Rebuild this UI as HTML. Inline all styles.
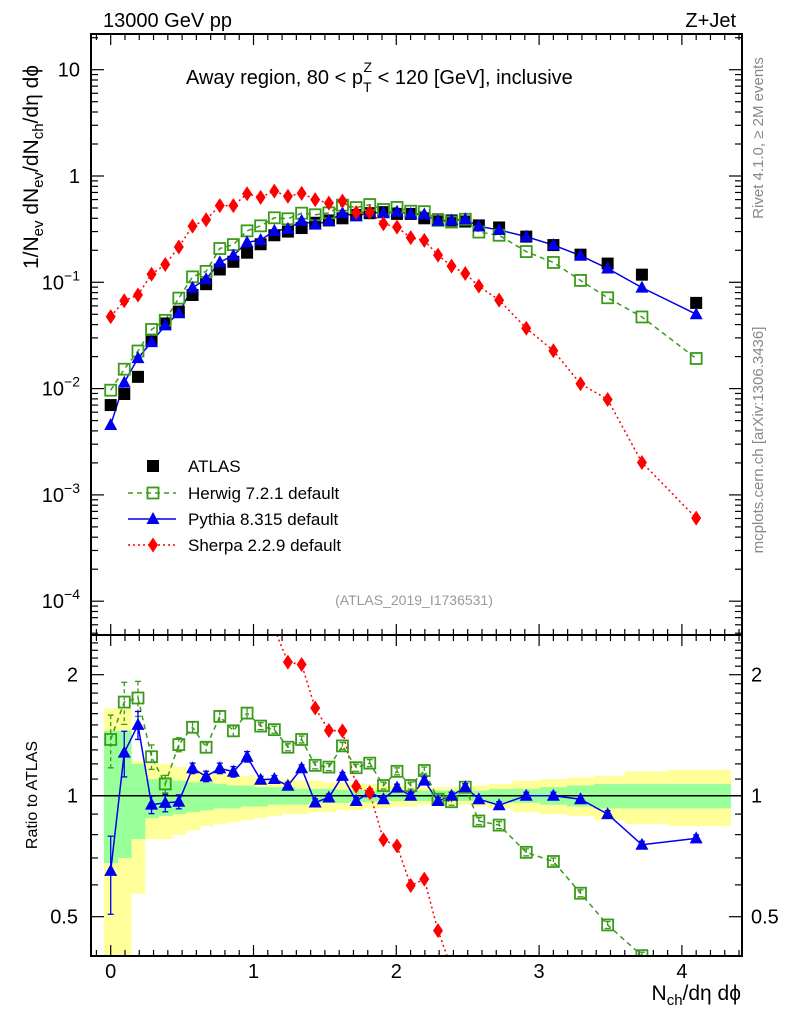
<!DOCTYPE html>
<html><head><meta charset="utf-8"><style>
html,body{margin:0;padding:0;background:#fff;overflow:hidden;width:786px;height:1024px;}
svg{display:block;font-family:"Liberation Sans",sans-serif;}
</style></head><body>
<svg id="plot" width="786" height="1024" viewBox="0 0 786 1024" xmlns="http://www.w3.org/2000/svg">
<defs>
<clipPath id="clipMain"><rect x="91" y="34" width="651" height="601"/></clipPath>
<clipPath id="clipRatio"><rect x="91" y="635" width="651" height="321"/></clipPath>
</defs>
<text x="103" y="27" font-size="20">13000 GeV pp</text>
<text x="736" y="27" font-size="20" text-anchor="end">Z+Jet</text>
<text x="186" y="84" font-size="20">Away region, 80 &lt; p<tspan dy="8" font-size="14">T</tspan><tspan dx="-8" dy="-20" font-size="14">Z</tspan><tspan dy="12"> &lt; 120 [GeV], inclusive</tspan></text>
<text transform="translate(38,167) rotate(-90)" font-size="21" text-anchor="middle">1/N<tspan font-size="15" dy="5">ev</tspan><tspan dy="-5"> dN</tspan><tspan font-size="15" dy="5">ev</tspan><tspan dy="-5">/dN</tspan><tspan font-size="15" dy="5">ch</tspan><tspan dy="-5">/dη dϕ</tspan></text>
<text transform="translate(37,795) rotate(-90)" font-size="16" text-anchor="middle">Ratio to ATLAS</text>
<text x="741" y="1000" font-size="21" text-anchor="end">N<tspan font-size="15" dy="5">ch</tspan><tspan dy="-5">/dη dϕ</tspan></text>
<text transform="translate(763,138) rotate(-90)" font-size="15" fill="#888" text-anchor="middle">Rivet 4.1.0, ≥ 2M events</text>
<text transform="translate(763,440) rotate(-90)" font-size="15" fill="#888" text-anchor="middle">mcplots.cern.ch [arXiv:1306.3436]</text>
<text x="414" y="605" font-size="14" fill="#999" text-anchor="middle">(ATLAS_2019_I1736531)</text>
<g id="bands" clip-path="url(#clipRatio)"></g>
<g id="ticks"></g>
<g id="mainMarks" clip-path="url(#clipMain)"></g>
<g id="ratioMarks" clip-path="url(#clipRatio)"></g>
<rect x="91" y="34" width="651" height="601" fill="none" stroke="#000" stroke-width="2"/>
<rect x="91" y="635" width="651" height="321" fill="none" stroke="#000" stroke-width="2"/>
<g id="legend"></g>
</svg>
<script>
const xVals=[0,0.095,0.191,0.286,0.382,0.477,0.573,0.668,0.764,0.859,0.955,1.05,1.146,1.241,1.337,1.432,1.528,1.623,1.719,1.814,1.91,2.005,2.101,2.196,2.292,2.387,2.483,2.578,2.72,2.91,3.10,3.29,3.48,3.72,4.10];
const atlasVals=[0.0070,0.0089,0.0129,0.0288,0.041,0.053,0.076,0.096,0.132,0.156,0.19,0.228,0.277,0.30,0.324,0.363,0.382,0.40,0.43,0.447,0.457,0.44,0.44,0.40,0.39,0.382,0.373,0.343,0.328,0.269,0.224,0.182,0.150,0.118,0.064];
const pythiaRatio=[0.65,1.28,1.50,0.95,0.96,0.966,1.17,1.117,1.17,1.147,1.25,1.096,1.10,1.059,1.17,0.962,0.99,1.12,0.97,1.02,0.98,1.047,1.0,1.09,0.97,1.0,1.05,0.98,0.947,1.0,1.0,0.98,0.90,0.755,0.783];
const herwigRatio=[1.38,1.71,1.75,1.25,1.07,1.34,1.48,1.32,1.575,1.45,1.605,1.49,1.46,1.32,1.38,1.19,1.178,1.33,1.174,1.205,1.06,1.15,1.06,1.155,0.98,0.966,1.05,0.865,0.845,0.723,0.686,0.572,0.477,0.40,0.30];
const sherpaVals=[0.0476,0.067,0.076,0.119,0.147,0.215,0.338,0.388,0.527,0.527,0.68,0.63,0.72,0.645,0.687,0.60,0.555,0.58,0.454,0.455,0.355,0.33,0.263,0.248,0.18,0.142,0.121,0.092,0.068,0.037,0.0227,0.0111,0.0079,0.00202,0.000605];
const pythiaErr=[0.22,0.13,0.08,0.05,0.05,0.04,0.03,0.03,0.03,0.03,0.03,0.02,0.02,0.02,0.02,0.02,0.02,0.02,0.02,0.02,0.02,0.02,0.02,0.02,0.02,0.02,0.02,0.02,0.02,0.02,0.02,0.02,0.02,0.02,0.02];
const herwigErr=[0.15,0.12,0.10,0.07,0.05,0.04,0.03,0.03,0.03,0.03,0.03,0.02,0.02,0.02,0.02,0.02,0.02,0.02,0.02,0.02,0.02,0.02,0.02,0.02,0.02,0.02,0.02,0.02,0.02,0.02,0.02,0.02,0.02,0.02,0.02];
const greenUp=[0.45,0.45,0.20,0.10,0.10,0.09,0.08,0.08,0.07,0.06,0.06,0.05,0.05,0.05,0.04,0.04,0.04,0.035,0.035,0.03,0.03,0.03,0.03,0.03,0.03,0.03,0.03,0.03,0.04,0.04,0.05,0.06,0.07,0.07,0.07];
const greenDn=[0.32,0.30,0.22,0.12,0.11,0.10,0.09,0.08,0.07,0.07,0.06,0.06,0.05,0.05,0.05,0.04,0.04,0.04,0.035,0.035,0.03,0.03,0.03,0.03,0.03,0.03,0.03,0.03,0.04,0.04,0.05,0.06,0.07,0.07,0.07];
const yellowUp=[0.65,0.65,0.22,0.20,0.20,0.18,0.16,0.15,0.14,0.13,0.12,0.11,0.10,0.10,0.09,0.09,0.08,0.08,0.07,0.07,0.06,0.06,0.05,0.05,0.05,0.05,0.05,0.06,0.07,0.09,0.10,0.11,0.12,0.15,0.16];
const yellowDn=[0.70,0.70,0.43,0.22,0.22,0.20,0.18,0.16,0.15,0.14,0.13,0.12,0.11,0.10,0.10,0.09,0.09,0.08,0.08,0.07,0.07,0.06,0.06,0.05,0.05,0.05,0.05,0.06,0.07,0.09,0.10,0.11,0.13,0.15,0.16];
const xTickMajor=[0,1,2,3,4];
const mainTickLabels=[["10",1],["1",0],["10","−1"],["10","−2"],["10","−3"],["10","−4"]];
const ratioTickLabels=["2","1","0.5"];
const ratioTickVals=[2,1,0.5];

const NS="http://www.w3.org/2000/svg";
const X=v=>110.7+142.8*v;
const YM=v=>176-106.3*Math.log10(v);
const YR=r=>795.7-121*Math.log2(r);
const RTOP=635, RBOT=956;
const clampR=y=>Math.min(RBOT,Math.max(RTOP,y));
function mk(tag,attrs,parent){const e=document.createElementNS(NS,tag);for(const k in attrs)e.setAttribute(k,attrs[k]);parent.appendChild(e);return e;}
const g=id=>document.getElementById(id);

const edges=[];
for(let i=0;i<=xVals.length;i++){
  if(i===0)edges.push(xVals[0]-(xVals[1]-xVals[0])/2);
  else if(i===xVals.length)edges.push(4.34);
  else edges.push((xVals[i-1]+xVals[i])/2);
}
const bands=g('bands');
xVals.forEach((x,i)=>{
  const t=clampR(YR(1+yellowUp[i])), b=clampR(YR(Math.max(1-yellowDn[i],0.05)));
  const y=mk('rect',{x:X(edges[i]),width:X(edges[i+1])-X(edges[i])+0.5,y:t,height:b-t,fill:'#ffff99'},bands);
  
  
});
xVals.forEach((x,i)=>{
  const t=clampR(YR(1+greenUp[i])), b=clampR(YR(1-greenDn[i]));
  const r=mk('rect',{x:X(edges[i]),width:X(edges[i+1])-X(edges[i])+0.5,y:t,height:b-t,fill:'#99ff99'},bands);
  
  
});
const unity=mk('line',{x1:91,x2:742,y1:YR(1),y2:YR(1),stroke:'#000','stroke-width':1.5},bands);



const tk=g('ticks');
function line(x1,y1,x2,y2,w){mk('line',{x1,y1,x2,y2,stroke:'#000','stroke-width':w||1.2},tk);}
for(let k=-1;k<=44;k++){
  const v=k/10, px=X(v); if(px<92||px>741)continue;
  const major=(k%10===0), L=major?11:6;
  line(px,34,px,34+L);line(px,635,px,635-L);line(px,635,px,635+L);line(px,956,px,956-L);
}
for(let d=-5;d<=1;d++){
  for(let m=1;m<=9;m++){
    const v=m*Math.pow(10,d), py=YM(v); if(py<35||py>634)continue;
    const L=m===1?13:7;
    line(91,py,91+L,py);line(742,py,742-L,py);
  }
}
for(let k=4;k<=25;k++){
  const v=k/10, py=YR(v); if(py<636||py>955)continue;
  const L=(k===5||k===10||k===20)?13:7;
  line(91,py,91+L,py);line(742,py,742-L,py);
}
xTickMajor.forEach(v=>{
  const t=mk('text',{x:X(v),y:978,'font-size':20,'text-anchor':'middle'},tk);t.textContent=v;
  
  
});
mainTickLabels.forEach((lab,i)=>{
  const py=YM(Math.pow(10,1-i));
  const t=mk('text',{x:80,y:py+7,'font-size':20,'text-anchor':'end'},tk);
  if(lab[1]===1||lab[1]===0){t.textContent=lab[0];}
  else{t.textContent=lab[0];const s=mk('tspan',{dy:-9,'font-size':14},t);s.textContent=lab[1];}
  
  
});
ratioTickVals.forEach((v,i)=>{
  const t1=mk('text',{x:78,y:YR(v)+7,'font-size':20,'text-anchor':'end'},tk);t1.textContent=ratioTickLabels[i];
  
  
  const t2=mk('text',{x:751,y:YR(v)+7,'font-size':20,'text-anchor':'start'},tk);t2.textContent=ratioTickLabels[i];
  
  
});

function sq(p,x,y,open){const s=open?11:12;return mk('rect',{x:x-s/2,y:y-s/2,width:s,height:s,fill:open?'none':'#000',stroke:open?'#3a9a1a':'none','stroke-width':1.8},p);}
function tri(p,x,y){return mk('polygon',{points:`${x},${y-7} ${x-6.5},${y+5} ${x+6.5},${y+5}`,fill:'#0000ee'},p);}
function dia(p,x,y){return mk('polygon',{points:`${x},${y-7.5} ${x+5},${y} ${x},${y+7.5} ${x-5},${y}`,fill:'#ff0000'},p);}
function path(p,pts,color,dash,w){return mk('polyline',{points:pts.map(a=>a.join(',')).join(' '),fill:'none',stroke:color,'stroke-width':w||1.5,'stroke-dasharray':dash||'none'},p);}
function ebar(p,x,y1,y2,color,dash){y1=clampR(y1);y2=clampR(y2);mk('line',{x1:x,x2:x,y1,y2,stroke:color,'stroke-width':1.3,'stroke-dasharray':dash||'none'},p);mk('line',{x1:x-3,x2:x+3,y1,y2:y1,stroke:color,'stroke-width':1.3},p);mk('line',{x1:x-3,x2:x+3,y1:y2,y2:y2,stroke:color,'stroke-width':1.3},p);}
// clip polyline to y range -> array of polylines
function clipY(pts,ymin,ymax){
  const out=[];let cur=[];
  for(let i=0;i<pts.length-1;i++){
    let [x1,y1]=pts[i],[x2,y2]=pts[i+1];
    let t0=0,t1=1;const dy=y2-y1;
    if(dy===0){if(y1<ymin||y1>ymax){if(cur.length){out.push(cur);cur=[];}continue;}}
    else{
      let ta=(ymin-y1)/dy,tb=(ymax-y1)/dy;if(ta>tb)[ta,tb]=[tb,ta];
      t0=Math.max(0,ta);t1=Math.min(1,tb);
      if(t0>t1){if(cur.length){out.push(cur);cur=[];}continue;}
    }
    const a=[x1+(x2-x1)*t0,y1+dy*t0],b=[x1+(x2-x1)*t1,y1+dy*t1];
    if(t0>0&&cur.length){out.push(cur);cur=[];}
    if(!cur.length)cur.push(a);
    cur.push(b);
    if(t1<1){out.push(cur);cur=[];}
  }
  if(cur.length)out.push(cur);
  return out;
}
const inR=y=>y>=RTOP-4&&y<=RBOT+4;

const mm=g('mainMarks');
const herwigMain=atlasVals.map((v,i)=>v*herwigRatio[i]);
const pythiaMain=atlasVals.map((v,i)=>v*pythiaRatio[i]);
let l;
l=path(mm,xVals.map((x,i)=>[X(x),YM(sherpaVals[i])]),'#ff0000','2,3');


l=path(mm,xVals.map((x,i)=>[X(x),YM(herwigMain[i])]),'#3a9a1a','5,4');


l=path(mm,xVals.map((x,i)=>[X(x),YM(pythiaMain[i])]),'#0000ee');


xVals.forEach((x,i)=>{
  let e=sq(mm,X(x),YM(atlasVals[i]),false);
  
  
});
xVals.forEach((x,i)=>{
  let e=sq(mm,X(x),YM(herwigMain[i]),true);
  
  
  e=tri(mm,X(x),YM(pythiaMain[i]));
  
  
  e=dia(mm,X(x),YM(sherpaVals[i]));
  
  
});

const rm=g('ratioMarks');
const sherpaRatio=sherpaVals.map((v,i)=>v/atlasVals[i]);
clipY(xVals.map((x,i)=>[X(x),YR(sherpaRatio[i])]),RTOP,RBOT).forEach(seg=>{
  const s=path(rm,seg,'#ff0000','2,3');
  
  
});
clipY(xVals.map((x,i)=>[X(x),YR(herwigRatio[i])]),RTOP,RBOT).forEach(seg=>{
  const s=path(rm,seg,'#3a9a1a','5,4');
  
  
});
clipY(xVals.map((x,i)=>[X(x),YR(pythiaRatio[i])]),RTOP,RBOT).forEach(seg=>{
  const s=path(rm,seg,'#0000ee');
  
  
});
xVals.forEach((x,i)=>{
  let e;
  if(inR(YR(herwigRatio[i]))){
    ebar(rm,X(x),YR(herwigRatio[i]*(1+herwigErr[i])),YR(herwigRatio[i]*(1-herwigErr[i])),'#3a9a1a','4,3');
    e=sq(rm,X(x),YR(herwigRatio[i]),true);
    
    
  }
  if(inR(YR(pythiaRatio[i]))){
    ebar(rm,X(x),YR(pythiaRatio[i]*(1+pythiaErr[i])),YR(pythiaRatio[i]*(1-pythiaErr[i])),'#0000ee');
    e=tri(rm,X(x),YR(pythiaRatio[i]));
    
    
  }
  if(inR(YR(sherpaRatio[i]))){
    e=dia(rm,X(x),YR(sherpaRatio[i]));
    
    
  }
});

const lg=g('legend');
let e;
e=sq(lg,153,466,false);


const entries=[["ATLAS",466],["Herwig 7.2.1 default",493],["Pythia 8.315 default",519],["Sherpa 2.2.9 default",545]];
mk('line',{x1:128,x2:176,y1:493,y2:493,stroke:'#3a9a1a','stroke-width':1.5,'stroke-dasharray':'5,4'},lg);
e=sq(lg,153,493,true);


mk('line',{x1:128,x2:176,y1:519,y2:519,stroke:'#0000ee','stroke-width':1.5},lg);
e=tri(lg,153,519);


mk('line',{x1:128,x2:176,y1:545,y2:545,stroke:'#ff0000','stroke-width':1.5,'stroke-dasharray':'2,3'},lg);
e=dia(lg,153,545);


entries.forEach(en=>{
  const t=mk('text',{x:188,y:en[1]+6,'font-size':17},lg);t.textContent=en[0];
  
  
});
</script>
</body></html>
